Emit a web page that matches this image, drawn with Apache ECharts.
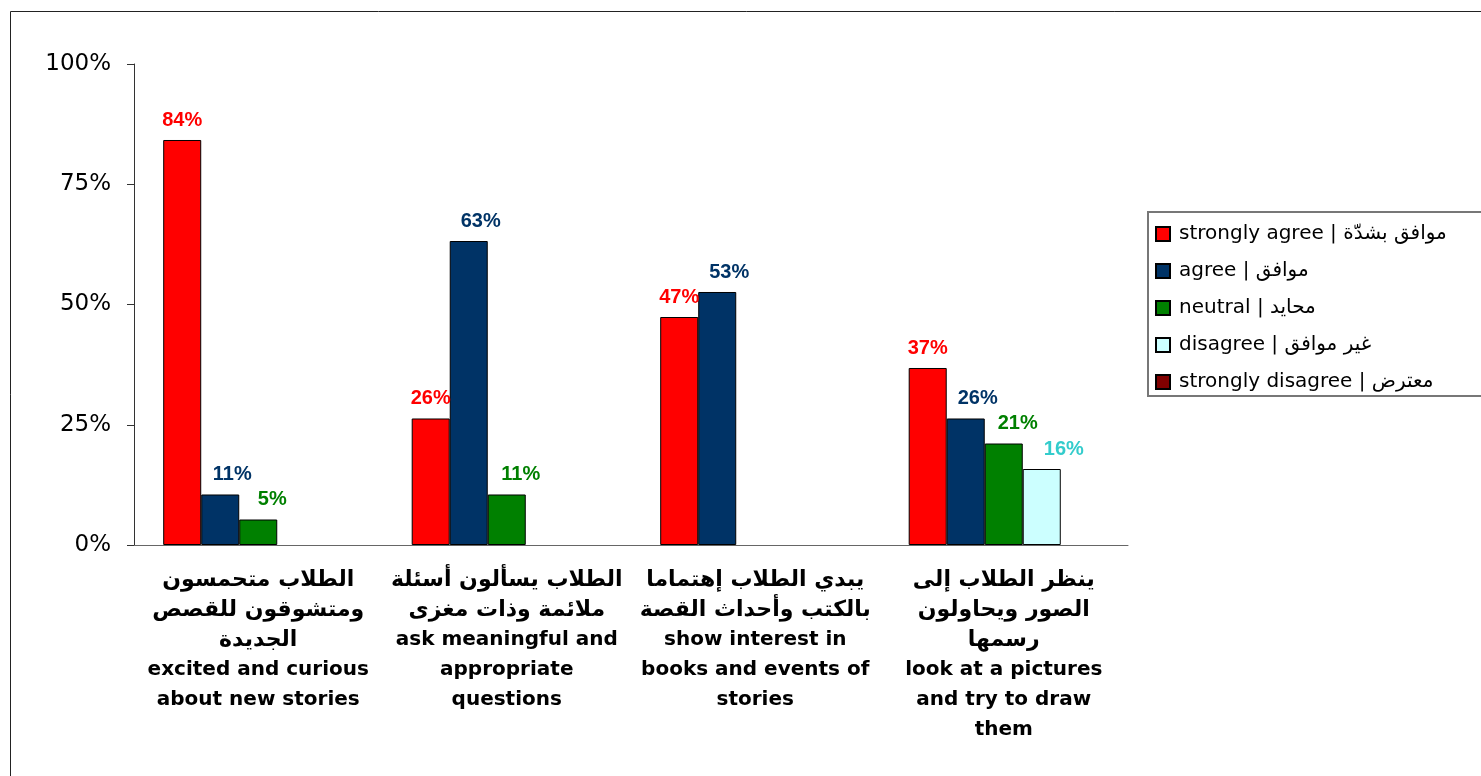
<!DOCTYPE html>
<html>
<head>
<meta charset="utf-8">
<script src="https://cdn.jsdelivr.net/npm/echarts@6/dist/echarts.min.js"></script>
<style>
  html, body { margin: 0; padding: 0; background: #fff; }
  #chart { width: 1481px; height: 776px; }
</style>
</head>
<body>
<div id="chart"></div>
<script>
// categories (arabic + english)
const categories = [
  'الطلاب متحمسون\nومتشوقون للقصص\nالجديدة\nexcited and curious\nabout new stories',
  'الطلاب يسألون أسئلة\nملائمة وذات مغزى\nask meaningful and\nappropriate\nquestions',
  'يبدي الطلاب إهتماما\nبالكتب وأحداث القصة\nshow interest in\nbooks and events of\nstories',
  'ينظر الطلاب إلى\nالصور ويحاولون\nرسمها\nlook at a pictures\nand try to draw\nthem'
]

const seriesNames = [
  'strongly agree | موافق بشدّة',
  'agree | موافق',
  'neutral | محايد',
  'disagree | غير موافق',
  'strongly disagree | معترض'
]

// percent values per answer
const stronglyAgree = [84.2, 26.3, 47.4, 36.8]
const agree = [10.5, 63.2, 52.6, 26.3]
const neutral = [5.3, 10.5, 0, 21.1]
const disagree = [0, 0, 0, 15.8]
const stronglyDisagree = [0, 0, 0, 0]

const yTicks = [0, 25, 50, 75, 100]

const fills = ['#FF0000', '#003366', '#008000', '#CCFFFF', '#800000']
const labelColors = ['#FF0000', '#003366', '#008000', '#33CCCC', '#800000']
const labelShift = [0, 12, 14, 22, 0] // labels sit a bit right of the bar like the original

const allData = [stronglyAgree, agree, neutral, disagree, stronglyDisagree]

const chart = echarts.init(document.getElementById('chart'))

chart.setOption({
  animation: false,
  textStyle: { fontFamily: 'DejaVu Sans' },
  graphic: [
    {
      type: 'rect',
      shape: { x: 10.5, y: 11.5, width: 1520, height: 820 },
      style: { fill: 'none', stroke: '#222', lineWidth: 1 },
      silent: true
    },
    {
      type: 'rect',
      shape: { x: 1148, y: 212, width: 400, height: 184 },
      style: { fill: 'none', stroke: '#777', lineWidth: 2 },
      silent: true
    }
  ],
  legend: {
    orient: 'vertical',
    left: 1155,
    top: 224,
    padding: 0,
    itemWidth: 14,
    itemHeight: 14,
    itemGap: 17,
    icon: 'rect',
    textStyle: {
      fontFamily: 'DejaVu Sans',
      fontSize: 20,
      lineHeight: 20,
      color: '#000',
      padding: [0, 0, 0, 4]
    },
    data: seriesNames
  },
  grid: {
    left: 134,
    right: 353,
    top: 64,
    bottom: 231,
    containLabel: false
  },
  xAxis: {
    type: 'category',
    data: categories,
    axisLine: { lineStyle: { color: '#666', width: 1 } },
    axisTick: { show: false },
    axisLabel: {
      interval: 0,
      margin: 20,
      color: '#000',
      align: 'center',
      formatter: v => v.split('\n').map(l => (/[\u0600-\u06FF]/.test(l) ? '{ar|' + l + '}' : '{en|' + l + '}')).join('\n'),
      rich: {
        ar: { fontFamily: 'DejaVu Sans', fontWeight: 'bold', fontSize: 22, lineHeight: 30, color: '#000' },
        en: { fontFamily: 'DejaVu Sans', fontWeight: 'bold', fontSize: 20, lineHeight: 30, color: '#000' }
      }
    }
  },
  yAxis: {
    type: 'value',
    min: yTicks[0],
    max: yTicks[yTicks.length - 1],
    interval: 25,
    splitLine: { show: false },
    axisLine: { show: true, lineStyle: { color: '#333', width: 1 } },
    axisTick: { show: true, length: 7, lineStyle: { color: '#333' } },
    axisLabel: {
      margin: 23,
      color: '#000',
      fontFamily: 'DejaVu Sans',
      fontSize: 23,
      formatter: '{value}%'
    }
  },
  series: seriesNames.map((name, i) => ({
    name: name,
    type: 'bar',
    data: allData[i].map(v => (v > 0 ? v : { value: v, itemStyle: { borderWidth: 0 } })),
    barGap: '0%',
    barCategoryGap: '23.5%',
    itemStyle: {
      color: fills[i],
      borderColor: '#000',
      borderWidth: 1
    },
    label: {
      show: true,
      position: 'top',
      distance: 10,
      offset: [labelShift[i], 0],
      color: labelColors[i],
      fontFamily: 'Liberation Sans',
      fontWeight: 'bold',
      fontSize: 20,
      formatter: p => (p.value > 0 ? Math.round(p.value) + '%' : '')
    }
  }))
})
</script>
</body>
</html>
